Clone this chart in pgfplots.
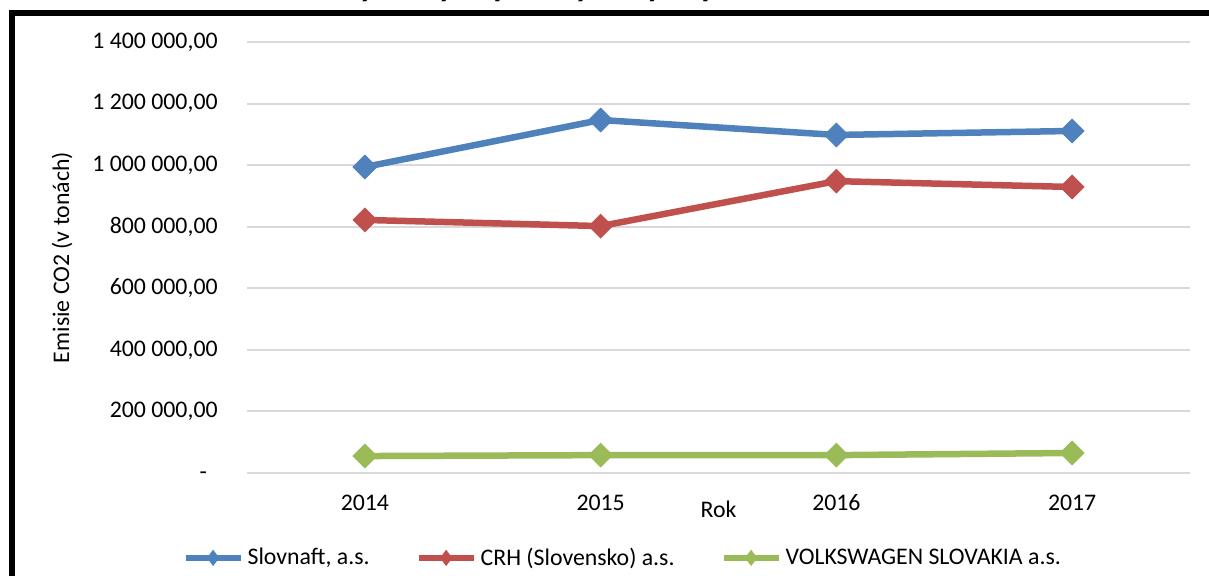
\documentclass[border=0pt]{standalone}
\usepackage{fontspec}
\setmainfont{Carlito}
\usepackage{graphicx}
\usepackage{pgfplots}
\pgfplotsset{compat=1.18}
\definecolor{sblue}{HTML}{4F81BD}
\definecolor{sred}{HTML}{C0504D}
\definecolor{sgreen}{HTML}{9BBB59}
\definecolor{sgrid}{HTML}{D9D9D9}
\begin{document}
\begin{tikzpicture}
\useasboundingbox (0,0) rectangle (604.5pt,288pt);
\node[anchor=base west, inner sep=0pt] at (22.5pt,289.8pt) {\resizebox{392.5pt}{!}{\bfseries Množstvo emisií CO2 vybraných priemyselných podnikov}};
\draw[line width=3pt] (6pt,-10pt) -- (6pt,281.25pt) -- (615pt,281.25pt);
\begin{axis}[
  at={(123.5pt,51.5pt)}, anchor=south west,
  scale only axis, width=471.5pt, height=215.5pt,
  xmin=-0.5, xmax=3.5, ymin=0, ymax=1400000,
  scaled y ticks=false,
  xtick={0,1,2,3}, xticklabels={2014,2015,2016,2017},
  ytick={0,200000,400000,600000,800000,1000000,1200000,1400000},
  yticklabels={{\makebox[9pt][l]{-}},{200 000,00},{400 000,00},{600 000,00},{800 000,00},{1 000 000,00},{1 200 000,00},{1 400 000,00}},
  axis line style={draw=none},
  major tick length=0pt,
  ymajorgrids, grid style={draw=sgrid, line width=1pt},
  tick label style={font=\fontsize{11.9}{14}\selectfont},
  label style={font=\fontsize{11.9}{14}\selectfont},
  yticklabel style={anchor=east, inner sep=0pt, text height=0.63em, text depth=0pt, xshift=-14.5pt},
  xticklabel style={anchor=base, inner sep=0pt, yshift=-19pt},
  xlabel={Rok}, xlabel style={at={(axis description cs:0.5,0)}, anchor=base, inner sep=0pt, yshift=-22.5pt},
  ylabel={Emisie CO2 (v tonách)}, ylabel style={at={(axis description cs:-0.1962,0.5)}, anchor=center, inner sep=0pt},
  legend style={at={(0.3995,-0.197)}, anchor=center, draw=none, fill=none, legend columns=3,
    font=\fontsize{11.9}{14}\selectfont,
    /tikz/every even column/.append style={column sep=21pt},
    nodes={inner sep=2pt}},
  legend image code/.code={\draw[mark repeat=2,mark phase=2,#1, line width=3pt, mark=diamond*, mark size=3.75pt, mark options={rotate=0, line width=0.4pt}] plot coordinates {(0pt,0pt) (13.75pt,0pt) (27.5pt,0pt)};},
  clip=false,
]
\addplot[color=sblue, line width=3.25pt, mark=square*, mark size=4.2pt, mark options={rotate=45, line width=0.4pt}] coordinates {(0,994000) (1,1146600) (2,1098000) (3,1111000)};
\addlegendentry{Slovnaft, a.s.}
\addplot[color=sred, line width=3.25pt, mark=square*, mark size=4.2pt, mark options={rotate=45, line width=0.4pt}] coordinates {(0,822000) (1,802000) (2,948000) (3,929000)};
\addlegendentry{CRH (Slovensko) a.s.}
\addplot[color=sgreen, line width=3.25pt, mark=square*, mark size=4.2pt, mark options={rotate=45, line width=0.4pt}] coordinates {(0,55000) (1,58000) (2,58000) (3,65000)};
\addlegendentry{VOLKSWAGEN SLOVAKIA a.s.}
\end{axis}
\end{tikzpicture}
\end{document}
